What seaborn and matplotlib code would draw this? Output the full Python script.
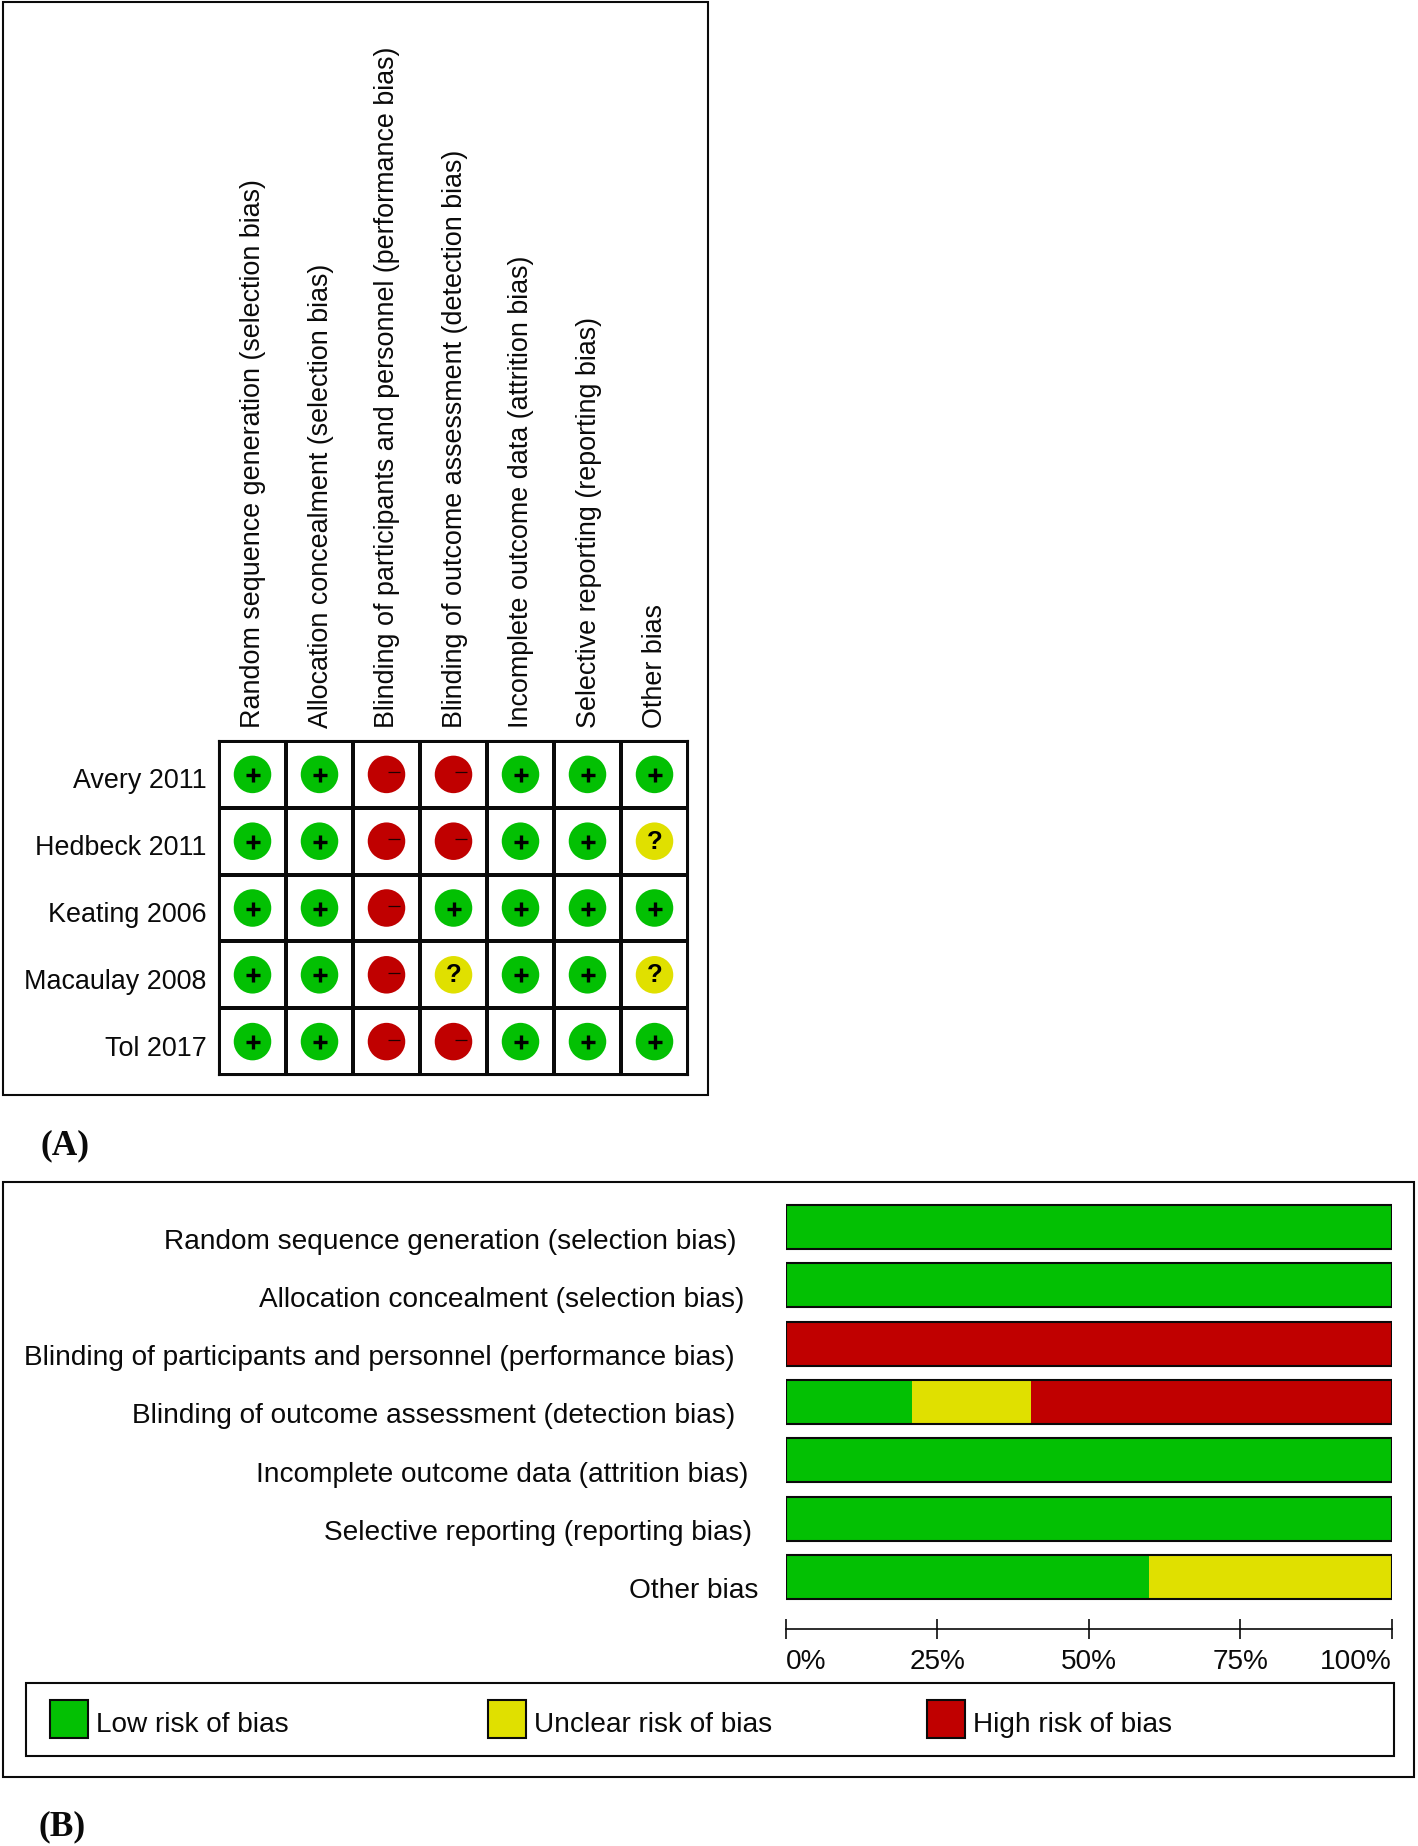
import numpy as np
import pandas as pd
import matplotlib
matplotlib.use("Agg")
import matplotlib.pyplot as plt
from matplotlib.patches import Rectangle
from matplotlib.transforms import Affine2D
import seaborn as sns

sns.set_theme(style="white")
plt.rcParams['font.family'] = ['Liberation Sans', 'DejaVu Sans']

domains = ["Random sequence generation (selection bias)",
           "Allocation concealment (selection bias)",
           "Blinding of participants and personnel (performance bias)",
           "Blinding of outcome assessment (detection bias)",
           "Incomplete outcome data (attrition bias)",
           "Selective reporting (reporting bias)",
           "Other bias"]
studies = ["Avery 2011", "Hedbeck 2011", "Keating 2006", "Macaulay 2008", "Tol 2017"]
avery = ["+", "+", "-", "-", "+", "+", "+"]
hedbeck = ["+", "+", "-", "-", "+", "+", "?"]
keating = ["+", "+", "-", "+", "+", "+", "+"]
macaulay = ["+", "+", "-", "?", "+", "+", "?"]
tol = ["+", "+", "-", "-", "+", "+", "+"]
low_pct = [100, 100, 0, 20.8, 100, 100, 60]
unclear_pct = [0, 0, 0, 19.7, 0, 0, 40]
high_pct = [0, 0, 100, 59.5, 0, 0, 0]
pct_ticks = [0, 25, 50, 75, 100]
legend_labels = ["Low risk of bias", "Unclear risk of bias", "High risk of bias"]

GREEN, YELLOW, RED = "#03C003", "#E0E000", "#C00000"
W, H = 1418, 1846
fig = plt.figure(figsize=(W / 100, H / 100), dpi=100, facecolor="white")

def px_axes(x0, y0, x1, y1, **kw):
    return fig.add_axes([x0 / W, 1 - y1 / H, (x1 - x0) / W, (y1 - y0) / H], **kw)

FS_A = 19.35
FS_B = 20.2
LW = 1.5
INK = "#0a0a0a"

# ---------- overlay: frames, legend, panel letters
ov = px_axes(0, 0, W, H, zorder=0)
ov.set_xlim(0, W); ov.set_ylim(H, 0); ov.axis("off")
ov.add_patch(Rectangle((3, 2), 705, 1093, fc="none", ec=INK, lw=LW))
ov.add_patch(Rectangle((3, 1182), 1411, 595, fc="none", ec=INK, lw=LW))
ov.add_patch(Rectangle((26, 1683), 1368, 73, fc="none", ec=INK, lw=LW))
for x, c, tx, lab in zip([50, 488, 927], [GREEN, YELLOW, RED], [95.5, 534, 973], legend_labels):
    ov.add_patch(Rectangle((x, 1700), 38, 38, fc=c, ec=INK, lw=LW))
    ov.text(tx, 1725, lab, fontsize=FS_B, va="center", ha="left", color=INK)
ov.text(41, 1146, "(A)", family="Liberation Serif", weight="bold", fontsize=25.5, va="center", color=INK)
ov.text(39, 1827, "(B)", family="Liberation Serif", weight="bold", fontsize=25.5, va="center", color=INK)

# ---------- panel A
axA = px_axes(219, 741, 688, 1075, zorder=2)
rows = [avery, hedbeck, keating, macaulay, tol]
grid = pd.DataFrame(np.zeros((len(studies), len(domains))), index=studies, columns=domains)
sns.heatmap(grid, cmap=["white"], cbar=False, linewidths=LW, linecolor=INK, ax=axA,
            xticklabels=domains, yticklabels=studies)
long = pd.DataFrame([(j + 0.5, i + 0.5, v) for i, r in enumerate(rows) for j, v in enumerate(r)],
                    columns=["x", "y", "judgement"])
sns.scatterplot(data=long, x="x", y="y", hue="judgement",
                palette={"+": GREEN, "-": RED, "?": YELLOW},
                s=730, linewidth=0, legend=False, ax=axA, zorder=3)
plus = long[long.judgement == "+"]
axA.plot(plus.x, plus.y + 0.01, ls="none", marker="+", ms=10.5, mew=2.4, color="black", zorder=4)
minus = long[long.judgement == "-"]
axA.plot(minus.x + 0.105, minus.y - 0.03, ls="none", marker="_", ms=8.5, mew=0.9, color="#220000", zorder=4)
for _, r in long[long.judgement == "?"].iterrows():
    axA.text(r.x, r.y + 0.01, "?", ha="center", va="center", fontsize=18.5, weight="bold", color="black", zorder=4)
axA.set_xlim(0, 7); axA.set_ylim(5, 0)
axA.set_xlabel(""); axA.set_ylabel("")
for s in axA.spines.values():
    s.set_visible(True); s.set_linewidth(LW); s.set_color(INK)
axA.xaxis.tick_top()
axA.tick_params(axis="both", length=0)
axA.tick_params(axis="x", pad=9.7)
axA.tick_params(axis="y", pad=9)
for t in axA.get_xticklabels():
    t.set(rotation=90, ha="center", va="bottom", fontsize=FS_A, color=INK)
    t.set_transform(t.get_transform() + Affine2D().translate(1, 0))
for t in axA.get_yticklabels():
    t.set(rotation=0, ha="right", va="center", fontsize=FS_A, color=INK)
    t.set_transform(t.get_transform() + Affine2D().translate(0, -7))

# ---------- panel B
axB = px_axes(786, 1197.9, 1391.5, 1606, zorder=2)
bars = pd.DataFrame({"domain": domains, "low": low_pct, "unclear": unclear_pct, "high": high_pct})
bars["c_unclear"] = bars.low + bars.unclear
bars["c_high"] = bars.c_unclear + bars.high
w = 44 / 58.3
sns.barplot(data=bars, y="domain", x="c_high", color=RED, saturation=1, width=w, ax=axB, linewidth=0)
sns.barplot(data=bars, y="domain", x="c_unclear", color=YELLOW, saturation=1, width=w, ax=axB, linewidth=0)
sns.barplot(data=bars, y="domain", x="low", color=GREEN, saturation=1, width=w, ax=axB, linewidth=0)
sns.barplot(data=bars, y="domain", x="c_high", fill=False, color=INK, saturation=1, width=w,
            ax=axB, linewidth=LW, edgecolor=INK)
axB.set_xlim(0, 100); axB.set_ylim(6.5, -0.5)
axB.set_xlabel(""); axB.set_ylabel("")
for n in ["top", "right", "left"]:
    axB.spines[n].set_visible(False)
axB.spines["bottom"].set_position(("outward", 16.8))
axB.spines["bottom"].set_linewidth(1.2); axB.spines["bottom"].set_color(INK)
axB.set_xticks(pct_ticks)
axB.set_xticklabels([f"{v}%" for v in pct_ticks], fontsize=FS_B, color=INK)
axB.tick_params(axis="x", direction="inout", length=14, width=1.2, color=INK, pad=7.5, bottom=True)
xl = axB.get_xticklabels()
xl[0].set_ha("left"); xl[-1].set_ha("right")
axB.tick_params(axis="y", length=0, pad=0, left=False)
right_edges = [736, 744, 735, 735, 748, 752, 758]
for t, r in zip(axB.get_yticklabels(), right_edges):
    t.set(fontsize=FS_B, ha="right", va="center", color=INK)
    t.set_transform(t.get_transform() + Affine2D().translate(r - 786, -14.5))

fig.savefig("out.png", dpi=100, facecolor="white")
